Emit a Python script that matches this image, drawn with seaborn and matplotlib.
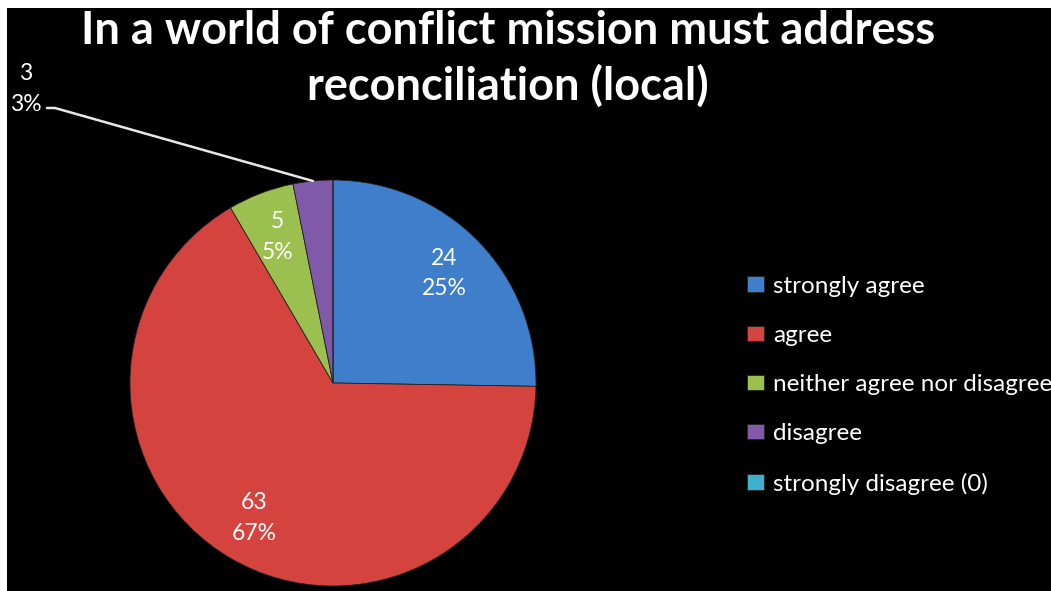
import matplotlib
matplotlib.use('Agg')
import matplotlib.pyplot as plt
import seaborn as sns
import numpy as np

categories = ['strongly agree', 'agree', 'neither agree nor disagree', 'disagree', 'strongly disagree (0)']
counts = [24, 63, 5, 3, 0]
pct_labels = ['25%', '67%', '5%', '3%', '0%']
colors = ['#3f7ecb', '#d5433f', '#9cc04f', '#8159a9', '#3fb0cc']
title = 'In a world of conflict mission must address\nreconciliation (local)'

sns.set_theme(style='white')
plt.rcParams['font.family'] = ['Lato', 'DejaVu Sans']

W, H = 1051, 591
fig = plt.figure(figsize=(W / 100, H / 100), dpi=100)
fig.patch.set_facecolor('white')

# black chart area (white strip at top and left)
bg = fig.add_axes([7 / W, 0, 1 - 7 / W, 1 - 8 / H])
bg.set_facecolor('black')
bg.set_xticks([])
bg.set_yticks([])
for s in bg.spines.values():
    s.set_visible(False)

# pie axes: centre (333, 383) px, radius 203 px
cx, cy, r = 333, H - 383, 203
ax = fig.add_axes([(cx - r) / W, (cy - r) / H, 2 * r / W, 2 * r / H])
ax.set_facecolor('none')
wedges, _ = ax.pie(counts, colors=colors, startangle=90, counterclock=False,
                   wedgeprops=dict(edgecolor='#222222', linewidth=0.6))
ax.set_xlim(-1, 1)
ax.set_ylim(-1, 1)
ax.axis('off')

# data labels inside the larger slices
for w, c, p in zip(wedges[:3], counts[:3], pct_labels[:3]):
    mid = np.deg2rad((w.theta1 + w.theta2) / 2)
    ax.text(0.77 * np.cos(mid), 0.77 * np.sin(mid), f'{c}\n{p}', color='white',
            ha='center', va='center', fontsize=16.5, linespacing=1.55)

# small slice: label outside with leader line
w = wedges[3]
mid = np.deg2rad((w.theta1 + w.theta2) / 2)
fig.text(26 / W, 1 - 89 / H, f'{counts[3]}\n{pct_labels[3]}', color='white',
         fontsize=16.5, ha='center', va='center', linespacing=1.55)
ax.annotate('', xy=(np.cos(mid), np.sin(mid)),
            xytext=(47 / W, (H - 108) / H), textcoords='figure fraction',
            arrowprops=dict(arrowstyle='-', color='#e8e8e8', lw=1.8,
                            connectionstyle='arc,angleA=0,angleB=0,armA=8,armB=0,rad=0',
                            shrinkA=0, shrinkB=0))

fig.text(508 / W, 1 - 59 / H, title, color='white', fontsize=32.5, fontweight='bold',
         ha='center', va='center', linespacing=1.35)

leg = fig.legend(wedges, categories, loc='upper left', bbox_to_anchor=(737 / W, 1 - 266 / H),
                 frameon=False, fontsize=17.5, labelcolor='white', handlelength=0.7,
                 handleheight=0.6, handletextpad=0.4, labelspacing=1.16, borderaxespad=0)

fig.savefig('out.png', dpi=100, facecolor=fig.get_facecolor())
